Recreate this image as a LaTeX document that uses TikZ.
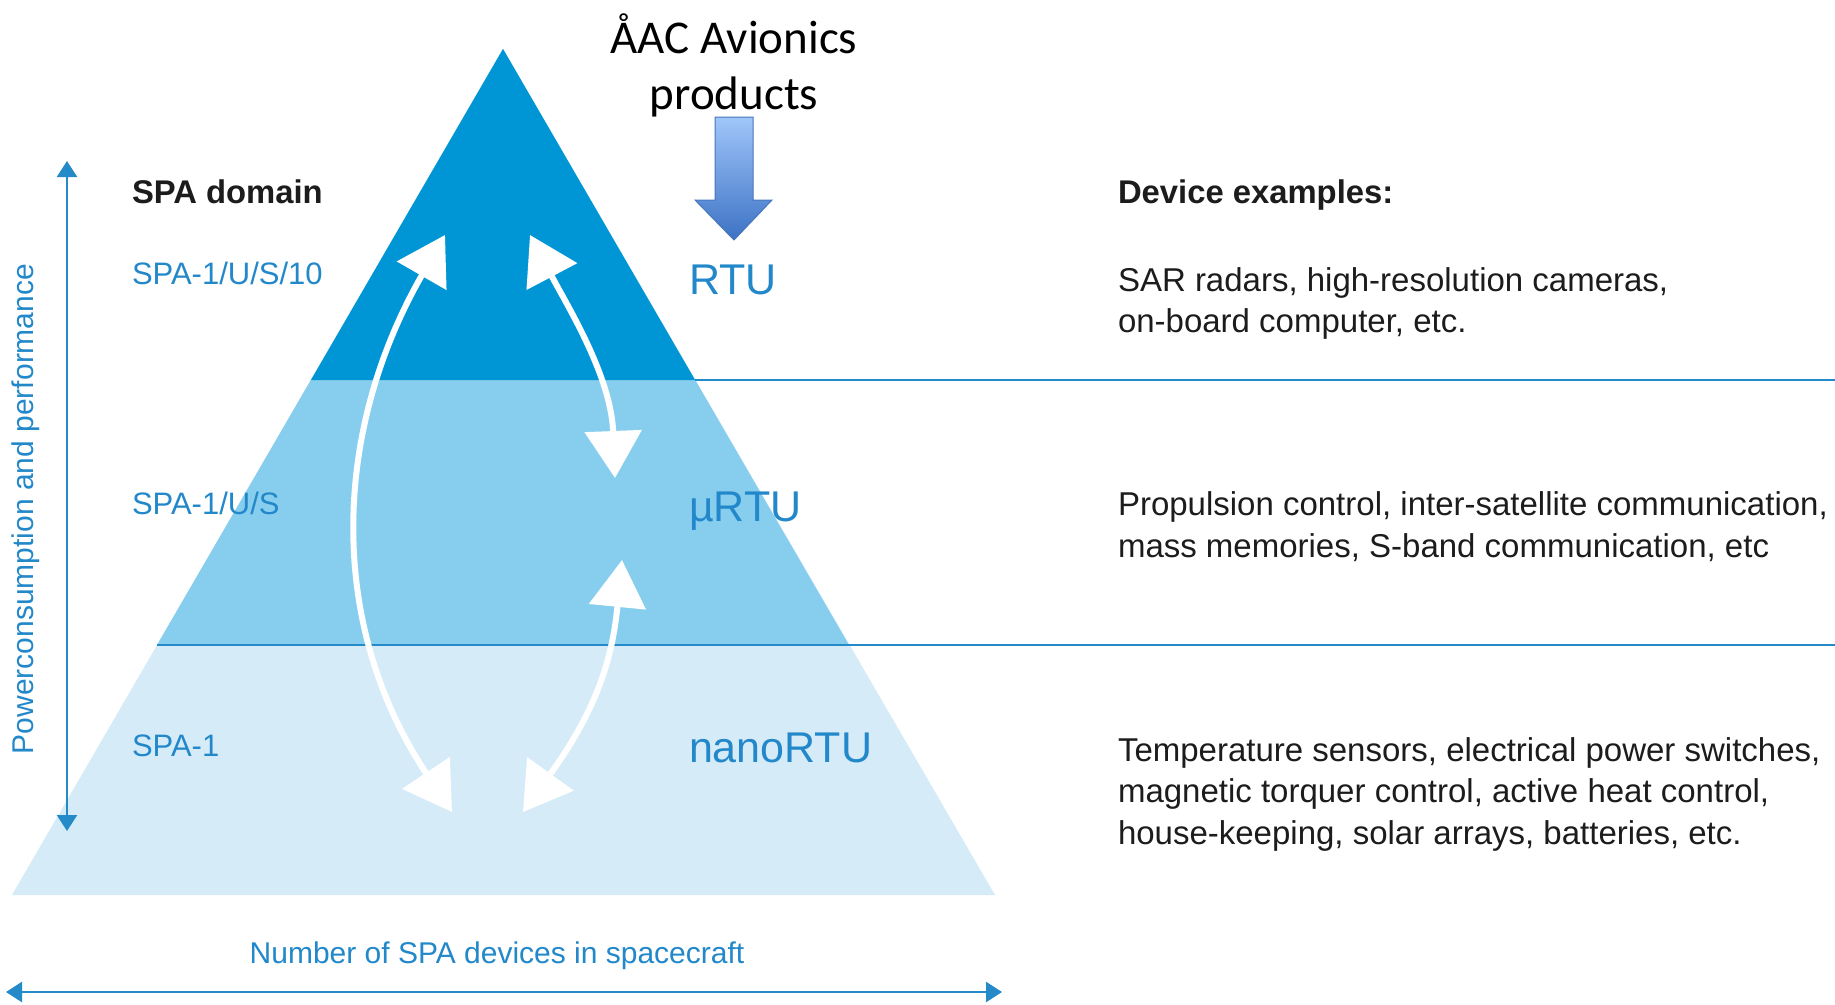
\documentclass[tikz,border=0pt]{standalone}
\usepackage{fontspec}
\setmainfont{Liberation Sans}
\newfontfamily\calibrifont{Carlito}
\usetikzlibrary{arrows.meta}

\definecolor{bandDark}{RGB}{0,150,214}
\definecolor{bandMid}{RGB}{135,206,238}
\definecolor{bandLight}{RGB}{214,235,248}
\definecolor{ruleBlue}{RGB}{36,138,200}
\definecolor{labelBlue}{RGB}{34,136,202}
\definecolor{textDark}{RGB}{28,28,28}
\definecolor{arrowTop}{RGB}{160,198,250}
\definecolor{arrowBot}{RGB}{60,114,196}
\definecolor{arrowEdge}{RGB}{70,118,190}

\newcommand{\pxfont}[1]{\fontsize{#1}{#1}\selectfont}

\begin{document}
\begin{tikzpicture}[x=1pt,y=-1pt,
  every node/.style={inner sep=0pt,outer sep=0pt},
  domainlabel/.style={font=\pxfont{31}, text=labelBlue, anchor=base west},
  rtulabel/.style={font=\pxfont{43}, text=labelBlue, anchor=base west},
  example/.style={font=\pxfont{33}, text=textDark, anchor=base west},
  heading/.style={font=\bfseries\pxfont{32.8}, text=textDark, anchor=base west},
  flow/.style={white, line width=6pt,
    {Triangle[length=47pt,width=56pt]}-{Triangle[length=47pt,width=56pt]}},
  axis/.style={ruleBlue, line width=2.5pt,
    {Triangle[length=16pt,width=20pt]}-{Triangle[length=16pt,width=20pt]}},
  separator/.style={ruleBlue, line width=2pt}]

% canvas
\fill[white] (0,0) rectangle (1835,1004);
\useasboundingbox (0,0) rectangle (1835,1004);

% pyramid bands
\coordinate (apex) at (503,49);
\fill[bandLight] (apex) -- (995,895) -- (12,895) -- cycle;
\fill[bandMid] (apex) -- (849,645) -- (157,645) -- cycle;
\fill[bandDark] (apex) -- (695,380) -- (311,380) -- cycle;

% separators between domains
\draw[separator] (695,380) -- (1835,380);
\draw[separator] (157,645) -- (1835,645);

% axes
\coordinate (vtop) at (67,161);
\coordinate (vbot) at (67,831);
\draw[axis] (vtop) -- (vbot);
\node[font=\pxfont{30}, text=labelBlue, rotate=90] (vlabel) at (26,509) {Powerconsumption and performance};

\coordinate (hleft) at (6,992);
\coordinate (hright) at (1002,992);
\draw[axis] (hleft) -- (hright);
\node[font=\pxfont{30}, text=labelBlue] (hlabel) at (497,956) {Number of SPA devices in spacecraft};

% white interaction arrows
\coordinate (topL) at (445,235);
\coordinate (botL) at (452,812);
\coordinate (topR) at (530,235);
\coordinate (midDown) at (615,478);
\coordinate (midUp) at (622,560);
\coordinate (botR) at (523,812);
\draw[flow] (topL) .. controls (333,430) and (326,623) .. (botL);
\draw[flow] (topR) .. controls (568,307) and (611,376) .. (midDown);
\draw[flow] (midUp) .. controls (612,662) and (595,712) .. (botR);

% domain column
\node[heading] (spahead) at (132,203) {SPA domain};
\node[domainlabel] (spa10) at (132,284) {SPA-1/U/S/10};
\node[domainlabel] (spaus) at (132,514) {SPA-1/U/S};
\node[domainlabel] (spa1) at (132,756) {SPA-1};

% unit names
\node[rtulabel] (rtu) at (689,294) {RTU};
\node[rtulabel] (murtu) at (689,521) {µRTU};
\node[rtulabel] (nanortu) at (689,762) {nanoRTU};

% product callout
\node[font=\calibrifont\pxfont{47}, anchor=base] (aac1) at (734,53) {ÅAC Avionics};
\node[font=\calibrifont\pxfont{47}, anchor=base] (aac2) at (734,109) {products};
\draw[arrowEdge, line width=1pt, top color=arrowTop, bottom color=arrowBot]
  (715,117) -- (753,117) -- (753,200) -- (772,200) -- (734,240)
  -- (695,200) -- (715,200) -- cycle;

% device examples
\node[heading] (devhead) at (1118,203) {Device examples:};
\node[example] (ex1a) at (1118,291) {SAR radars, high-resolution cameras,};
\node[example] (ex1b) at (1118,332) {on-board computer, etc.};
\node[example] (ex2a) at (1118,515) {Propulsion control, inter-satellite communication,};
\node[example] (ex2b) at (1118,557) {mass memories, S-band communication, etc};
\node[example] (ex3a) at (1118,761) {Temperature sensors, electrical power switches,};
\node[example] (ex3b) at (1118,802) {magnetic torquer control, active heat control,};
\node[example] (ex3c) at (1118,844) {house-keeping, solar arrays, batteries, etc.};

\end{tikzpicture}
\end{document}
